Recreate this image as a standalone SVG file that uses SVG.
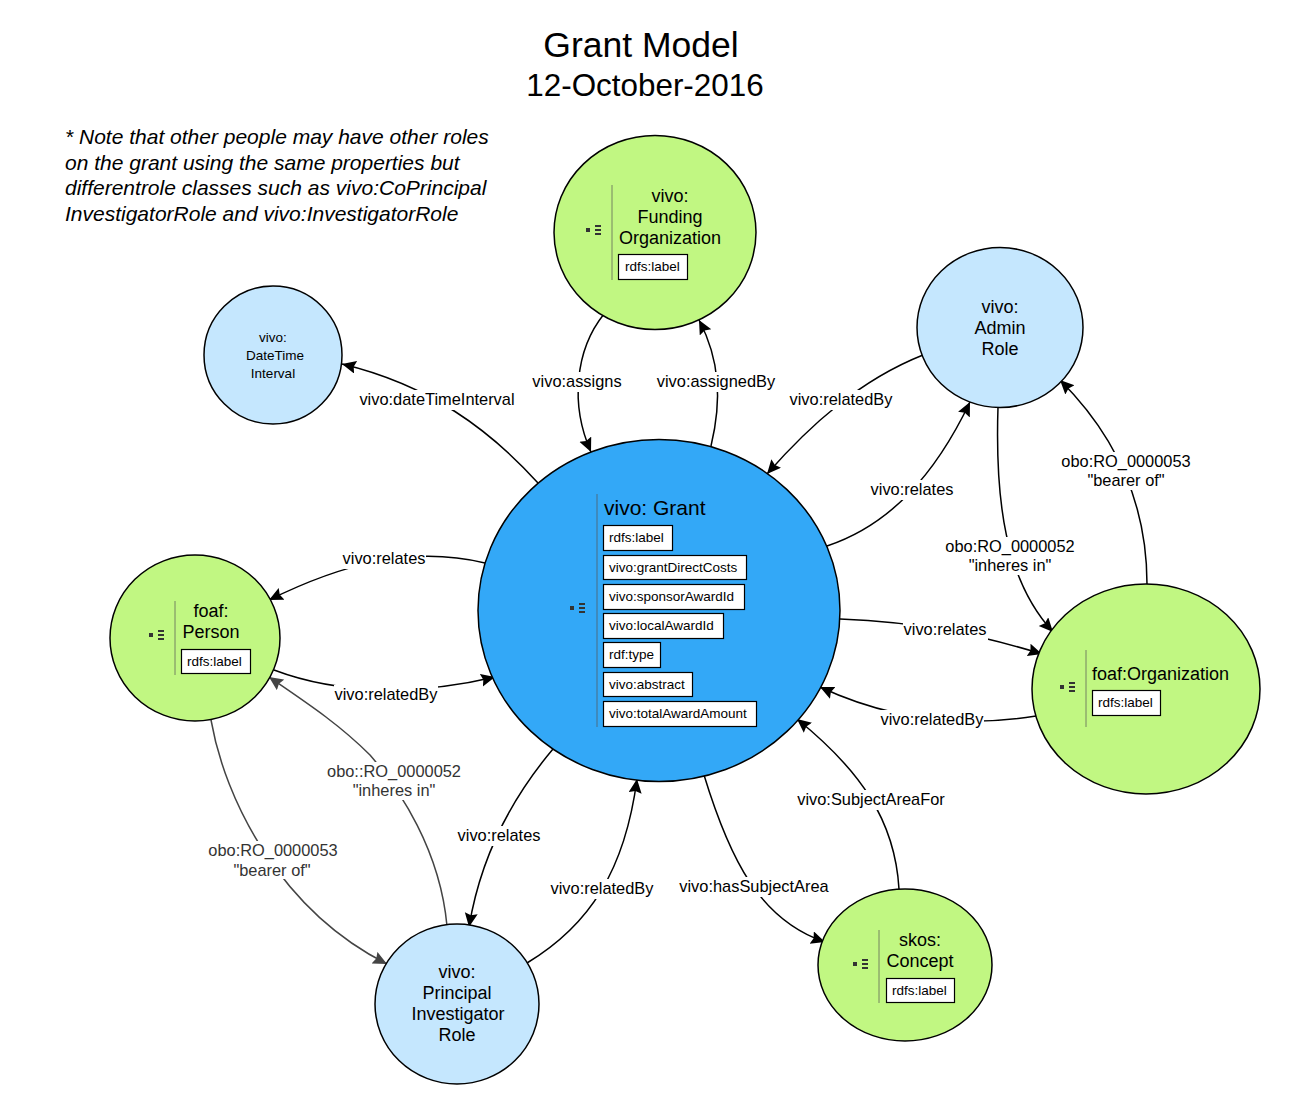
<svg xmlns="http://www.w3.org/2000/svg" width="1293" height="1109" viewBox="0 0 1293 1109">
<style>
text{font-family:"Liberation Sans",Arial,sans-serif;fill:#000}
.n{stroke:#000;stroke-width:1.5}
.g{fill:#c1f782}.b{fill:#c5e7fe}.m{fill:#33a8f7}
.t{font-size:18px;text-anchor:middle}
.f{fill:#fff;stroke:#000;stroke-width:1.2}
.p{font-size:13.500px}
.l{font-size:16.400px;text-anchor:middle}
.c{fill:none;stroke:#000;stroke-width:1.500;marker-end:url(#a)}
.d{fill:none;stroke:#444;stroke-width:1.500;marker-end:url(#a2)}
.s{stroke:#555;stroke-width:1;opacity:.7}
.i{fill:#333}
.bg{fill:#fff;stroke:none}
.e{fill:#333}
</style>
<defs>
<marker id="a" markerUnits="userSpaceOnUse" markerWidth="16" markerHeight="14" refX="14" refY="6.500" orient="auto"><path d="M0 0L14 6.500L0 13L2 6.500z" fill="#000"/></marker>
<marker id="a2" markerUnits="userSpaceOnUse" markerWidth="16" markerHeight="14" refX="14" refY="6.500" orient="auto"><path d="M0 0L14 6.500L0 13L2 6.500z" fill="#444"/></marker>
<g id="ic"><rect x="0" y="-2" width="4" height="4" class="i"/><rect x="9" y="-5" width="6" height="2" class="i"/><rect x="9" y="-1" width="6" height="2" class="i"/><rect x="9" y="3" width="6" height="2" class="i"/></g>
</defs>
<g id="title">
<text x="641" y="57" font-size="35.500" text-anchor="middle">Grant Model</text>
<text x="645" y="96" font-size="31.400" text-anchor="middle">12-October-2016</text>
</g>
<g id="note">
<text x="65" y="144" font-size="21" font-style="italic">* Note that other people may have other roles</text>
<text x="65" y="170" font-size="21" font-style="italic">on the grant using the same properties but</text>
<text x="65" y="195" font-size="21" font-style="italic">differentrole classes such as vivo:CoPrincipal</text>
<text x="65" y="221" font-size="21" font-style="italic">InvestigatorRole and vivo:InvestigatorRole</text>
</g>
<g id="connectors">
<path class="c" d="M538 483C490 430 430 385 342 364"/>
<path class="c" d="M604 314C575 350 570 405 591 452"/>
<path class="c" d="M711 446C722 400 720 360 699 320"/>
<path class="c" d="M923 355C860 380 810 425 767 474"/>
<path class="c" d="M827 546C890 525 935 475 970 402"/>
<path class="c" d="M998 407C995 500 1005 580 1053 632"/>
<path class="c" d="M1147 584C1147 510 1120 440 1060 380"/>
<path class="c" d="M840 619C920 622 980 635 1042 654"/>
<path class="c" d="M1036 716C950 730 880 715 820 687"/>
<path class="c" d="M899 889C895 820 860 770 797 719"/>
<path class="c" d="M704 775C730 860 760 920 825 942"/>
<path class="c" d="M527 963C590 925 625 870 637 779"/>
<path class="c" d="M553 749C510 800 480 860 469 927"/>
<path class="c" d="M274 670C340 695 420 695 495 677"/>
<path class="c" d="M485 563C410 545 340 565 269 600"/>
<path class="d" d="M447 926C440 850 400 790 370 755C340 725 310 705 269 677"/>
<path class="d" d="M211 720C225 800 280 910 387 964"/>
</g>
<g id="grant"><ellipse class="n m" cx="659" cy="610.500" rx="181" ry="171"/><path class="s" d="M597 494V727"/><use href="#ic" x="570" y="608"/>
<text x="604" y="515" font-size="21">vivo: Grant</text>
<rect class="f" x="603.500" y="525.500" width="69" height="25"/><text class="p" x="609" y="542">rdfs:label</text>
<rect class="f" x="603.500" y="555.500" width="143" height="24"/><text class="p" x="609" y="572">vivo:grantDirectCosts</text>
<rect class="f" x="603.500" y="584.500" width="141" height="25"/><text class="p" x="609" y="601">vivo:sponsorAwardId</text>
<rect class="f" x="603.500" y="613.500" width="120" height="25"/><text class="p" x="609" y="630">vivo:localAwardId</text>
<rect class="f" x="603.500" y="642.500" width="57" height="25"/><text class="p" x="609" y="659">rdf:type</text>
<rect class="f" x="603.500" y="672.500" width="89" height="24"/><text class="p" x="609" y="689">vivo:abstract</text>
<rect class="f" x="603.500" y="701.500" width="153" height="25"/><text class="p" x="609" y="718">vivo:totalAwardAmount</text></g>
<g id="funding"><ellipse class="n g" cx="655" cy="232.500" rx="101" ry="97"/><path class="s" d="M612 185V280"/><use href="#ic" x="586" y="230"/>
<text class="t" x="670" y="202">vivo:</text><text class="t" x="670" y="223">Funding</text><text class="t" x="670" y="244">Organization</text>
<rect class="f" x="618.500" y="254.500" width="69" height="25"/><text class="p" x="625" y="271">rdfs:label</text></g>
<g id="admin"><ellipse class="n b" cx="1000" cy="327.500" rx="83" ry="80"/><text class="t" x="1000" y="313">vivo:</text><text class="t" x="1000" y="334">Admin</text><text class="t" x="1000" y="355">Role</text></g>
<g id="datetime"><circle class="n b" cx="273" cy="355" r="69"/><g font-size="13.500" text-anchor="middle"><text x="273" y="342">vivo:</text><text x="275" y="360">DateTime</text><text x="273" y="378">Interval</text></g></g>
<g id="person"><ellipse class="n g" cx="195" cy="638" rx="85" ry="83"/><path class="s" d="M175 601V675"/><use href="#ic" x="149" y="635"/>
<text class="t" x="211" y="617">foaf:</text><text class="t" x="211" y="638">Person</text>
<rect class="f" x="181.500" y="649.500" width="69" height="24"/><text class="p" x="187" y="666">rdfs:label</text></g>
<g id="pi"><ellipse class="n b" cx="457" cy="1004" rx="82" ry="80"/><text class="t" x="457" y="978">vivo:</text><text class="t" x="457" y="999">Principal</text><text class="t" x="458" y="1020">Investigator</text><text class="t" x="457" y="1041">Role</text></g>
<g id="org"><ellipse class="n g" cx="1146" cy="689" rx="114" ry="105"/><path class="s" d="M1086 650V727"/><use href="#ic" x="1060" y="687"/>
<text x="1092" y="680" font-size="18">foaf:Organization</text>
<rect class="f" x="1092.500" y="690.500" width="68" height="25"/><text class="p" x="1098" y="707">rdfs:label</text></g>
<g id="concept"><ellipse class="n g" cx="905" cy="965" rx="87" ry="76"/><path class="s" d="M879 930V1003"/><use href="#ic" x="853" y="964"/>
<text class="t" x="920" y="946">skos:</text><text class="t" x="920" y="967">Concept</text>
<rect class="f" x="886.500" y="978.500" width="68" height="24"/><text class="p" x="892" y="995">rdfs:label</text></g>
<g id="labels">
<rect class="bg" x="358" y="390" width="158" height="20"/><text class="l" x="437" y="405">vivo:dateTimeInterval</text>
<rect class="bg" x="531" y="372" width="91" height="20"/><text class="l" x="577" y="387">vivo:assigns</text>
<rect class="bg" x="656" y="372" width="120" height="20"/><text class="l" x="716" y="387">vivo:assignedBy</text>
<rect class="bg" x="789" y="390" width="104" height="20"/><text class="l" x="841" y="405">vivo:relatedBy</text>
<rect class="bg" x="870" y="480" width="84" height="20"/><text class="l" x="912" y="495">vivo:relates</text>
<rect class="bg" x="944" y="537" width="132" height="38"/><text class="l" x="1010" y="552">obo:RO_0000052</text><text class="l" x="1010" y="571">"inheres in"</text>
<rect class="bg" x="1060" y="452" width="133" height="38"/><text class="l" x="1126" y="467">obo:RO_0000053</text><text class="l" x="1126" y="486">"bearer of"</text>
<rect class="bg" x="903" y="620" width="85" height="20"/><text class="l" x="945" y="635">vivo:relates</text>
<rect class="bg" x="880" y="710" width="104" height="20"/><text class="l" x="932" y="725">vivo:relatedBy</text>
<rect class="bg" x="796" y="790" width="150" height="20"/><text class="l" x="871" y="805">vivo:SubjectAreaFor</text>
<rect class="bg" x="679" y="877" width="151" height="20"/><text class="l" x="754" y="892">vivo:hasSubjectArea</text>
<rect class="bg" x="550" y="879" width="105" height="20"/><text class="l" x="602" y="894">vivo:relatedBy</text>
<rect class="bg" x="457" y="826" width="85" height="20"/><text class="l" x="499" y="841">vivo:relates</text>
<rect class="bg" x="334" y="685" width="104" height="20"/><text class="l" x="386" y="700">vivo:relatedBy</text>
<rect class="bg" x="342" y="549" width="84" height="20"/><text class="l" x="384" y="564">vivo:relates</text>
<rect class="bg" x="326" y="762" width="136" height="38"/><text class="l e" x="394" y="777" style="fill:#333">obo::RO_0000052</text><text class="l" x="394" y="796" style="fill:#333">"inheres in"</text>
<rect class="bg" x="207" y="841" width="132" height="38"/><text class="l" x="273" y="856" style="fill:#333">obo:RO_0000053</text><text class="l" x="272" y="876" style="fill:#333">"bearer of"</text>
</g>
</svg>
